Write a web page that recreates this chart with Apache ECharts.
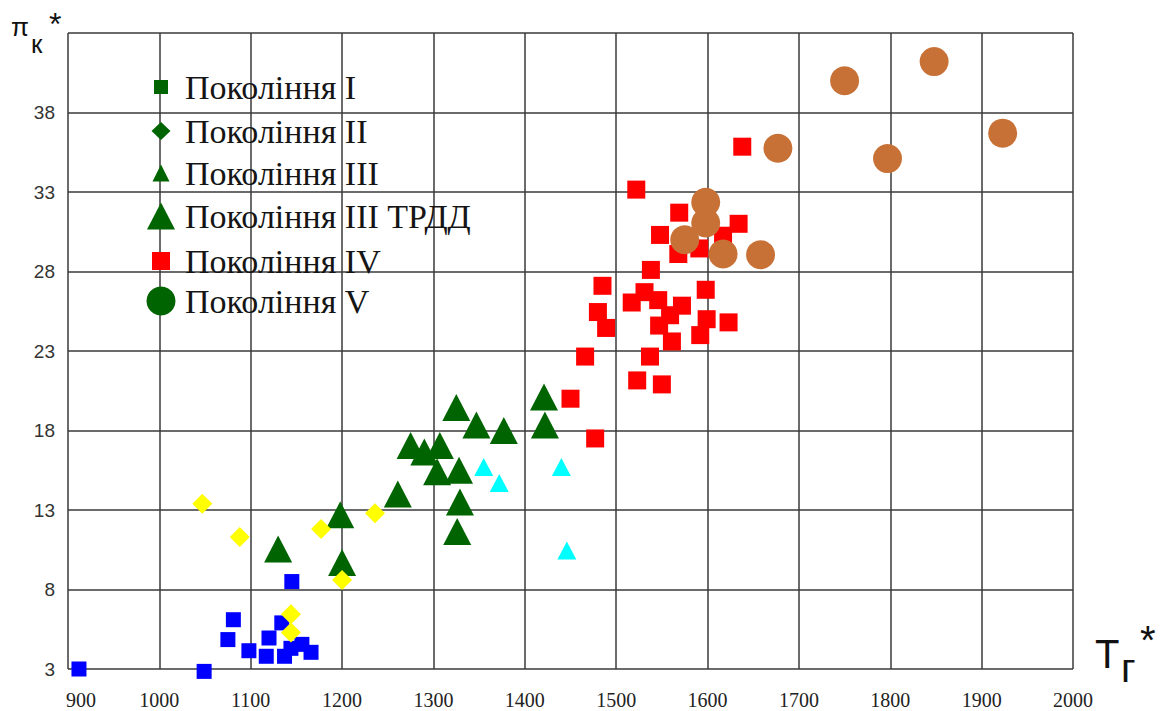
<!DOCTYPE html>
<html><head><meta charset="utf-8">
<script src="https://cdn.jsdelivr.net/npm/echarts@6/dist/echarts.min.js"></script>
<style>html,body{margin:0;padding:0;background:#fff}#c{width:1172px;height:711px}</style>
</head><body><div id="c"></div>
<script>
// ---- data ----
const seriesNames = ['Покоління I', 'Покоління II', 'Покоління III', 'Покоління III ТРДД', 'Покоління IV', 'Покоління V'];
const xTickLabels = [900, 1000, 1100, 1200, 1300, 1400, 1500, 1600, 1700, 1800, 1900, 2000];
const yTickLabels = [3, 8, 13, 18, 23, 28, 33, 38];
const gen1 = [[912,3.0],[1049,2.85],[1081,6.1],[1075,4.85],[1098,4.15],[1120,4.95],[1117,3.8],[1134,5.9],[1145,8.5],[1137,3.8],[1144,4.3],[1156,4.55],[1166,4.05]];
const gen2 = [[1047,13.4],[1088,11.3],[1177,11.8],[1236,12.8],[1200,8.6],[1144,6.45],[1144,5.3]];
const gen3 = [[1355,15.7],[1372,14.7],[1440,15.7],[1446,10.45]];
const gen3trdd = [[1130,10.55],[1198,12.7],[1200,9.7],[1261,14.0],[1275,17.05],[1290,16.65],[1307,17.05],[1304,15.4],[1328,15.5],[1329,13.5],[1326,11.65],[1325,19.45],[1347,18.35],[1377,18.0],[1421,20.1],[1422,18.35]];
const gen4 = [[1638,35.85],[1522,33.15],[1569,31.7],[1634,31.0],[1548,30.3],[1617,30.25],[1568,29.1],[1591,29.45],
  [1538,28.1],[1485,27.1],[1598,26.85],[1531,26.7],[1517,26.05],[1546,26.2],[1572,25.85],[1480,25.45],[1559,25.25],[1599,25.0],[1623,24.8],[1489,24.45],[1547,24.6],[1592,24.0],[1561,23.6],
  [1466,22.65],[1537,22.65],[1523,21.15],[1550,20.9],[1450,20.0],[1477,17.5]];
const gen5 = [[1750,40.0],[1848,41.2],[1923,36.7],[1797,35.1],[1677,35.75],[1598,32.35],[1598,31.05],[1575,30.0],[1617,29.1],[1658,29.05]];

// ---- styles ----
const serif = '"Liberation Serif", "Times New Roman", serif';
const sans = '"Liberation Sans", Arial, sans-serif';
const gridColor = '#3a3a3a';
const legendGreen = '#006400';

const seriesStyle = [
  {data: gen1, symbol: 'rect', size: 15, color: '#0000ff', nameIdx: 0},
  {data: gen3trdd, symbol: 'triangle', size: [28, 27], color: '#006400', nameIdx: 3},
  {data: gen3, symbol: 'triangle', size: [19, 18], color: '#00ffff', nameIdx: 2},
  {data: gen2, symbol: 'diamond', size: [20, 20], color: '#ffff00', nameIdx: 1},
  {data: gen4, symbol: 'rect', size: 18, color: '#ff0000', nameIdx: 4},
  {data: gen5, symbol: 'circle', size: 29, color: '#c87137', nameIdx: 5}
];

const legendLayout = [
  {icon: 'rect', w: 14, h: 14, cy: 87, color: legendGreen},
  {icon: 'diamond', w: 19, h: 18, cy: 131, color: legendGreen},
  {icon: 'triangle', w: 17, h: 17, cy: 173, color: legendGreen},
  {icon: 'triangle', w: 28, h: 27, cy: 216, color: legendGreen},
  {icon: 'rect', w: 18, h: 18, cy: 261, color: '#ff0000'},
  {icon: 'circle', w: 29, h: 29, cy: 301, color: legendGreen}
];
const markerCx = 161, textX = 185, legendLineH = 38;

const legends = legendLayout.map((L, i) => ({
  show: true,
  selectedMode: false,
  orient: 'vertical',
  left: markerCx - L.w / 2,
  top: L.cy - Math.max(L.h, legendLineH) / 2,
  padding: 0,
  itemWidth: L.w,
  itemHeight: L.h,
  data: [{name: seriesNames[i], icon: L.icon, itemStyle: {color: L.color}}],
  textStyle: {
    fontFamily: serif, fontSize: 34, color: '#151515', lineHeight: legendLineH,
    padding: [0, 0, 0, textX - (markerCx - L.w / 2) - L.w - 5]
  }
}));

const chart = echarts.init(document.getElementById('c'), null, {renderer: 'svg'});
chart.setOption({
  animation: false,
  backgroundColor: '#fff',
  grid: {left: 68, right: 99, top: 33, bottom: 42, containLabel: false},
  legend: legends,
  xAxis: {
    type: 'value', min: xTickLabels[0], max: xTickLabels[xTickLabels.length - 1], interval: 100,
    axisLine: {show: false}, axisTick: {show: false},
    splitLine: {show: true, lineStyle: {color: gridColor, width: 1.5}},
    axisLabel: {
      margin: 21, fontFamily: serif, fontSize: 20, color: '#222',
      formatter: v => xTickLabels.indexOf(v) === 0 ? '{f|' + v + '}' : (xTickLabels.indexOf(v) >= 0 ? String(v) : ''),
      rich: {f: {fontFamily: serif, fontSize: 20, color: '#222', padding: [0, 0, 0, 26]}}
    }
  },
  yAxis: {
    type: 'value', min: 3, max: 43, interval: 5,
    axisLine: {show: false}, axisTick: {show: false},
    splitLine: {show: true, lineStyle: {color: gridColor, width: 1.5}},
    axisLabel: {
      margin: 13, fontFamily: sans, fontSize: 19, color: '#333',
      formatter: v => yTickLabels.indexOf(v) >= 0 ? String(v) : ''
    }
  },
  graphic: [
    {type: 'text', left: 11, top: 14, style: {text: 'π', font: '26px ' + sans, fill: '#111'}},
    {type: 'text', left: 31, top: 31, style: {text: 'к', font: '26px ' + sans, fill: '#111'}},
    {type: 'text', left: 49, top: 8, style: {text: '*', font: '32px ' + sans, fill: '#111'}},
    {type: 'text', left: 1095, top: 634, style: {text: 'T', font: '40px ' + sans, fill: '#111'}},
    {type: 'text', left: 1121, top: 648, style: {text: 'г', font: '40px ' + sans, fill: '#111'}},
    {type: 'text', left: 1140, top: 620, style: {text: '*', font: '40px ' + sans, fill: '#111'}}
  ],
  series: seriesStyle.map(s => ({
    type: 'scatter',
    name: seriesNames[s.nameIdx],
    data: s.data,
    symbol: s.symbol,
    symbolSize: s.size,
    clip: false,
    itemStyle: {color: s.color, opacity: 1},
    emphasis: {disabled: true}
  }))
});
</script></body></html>
